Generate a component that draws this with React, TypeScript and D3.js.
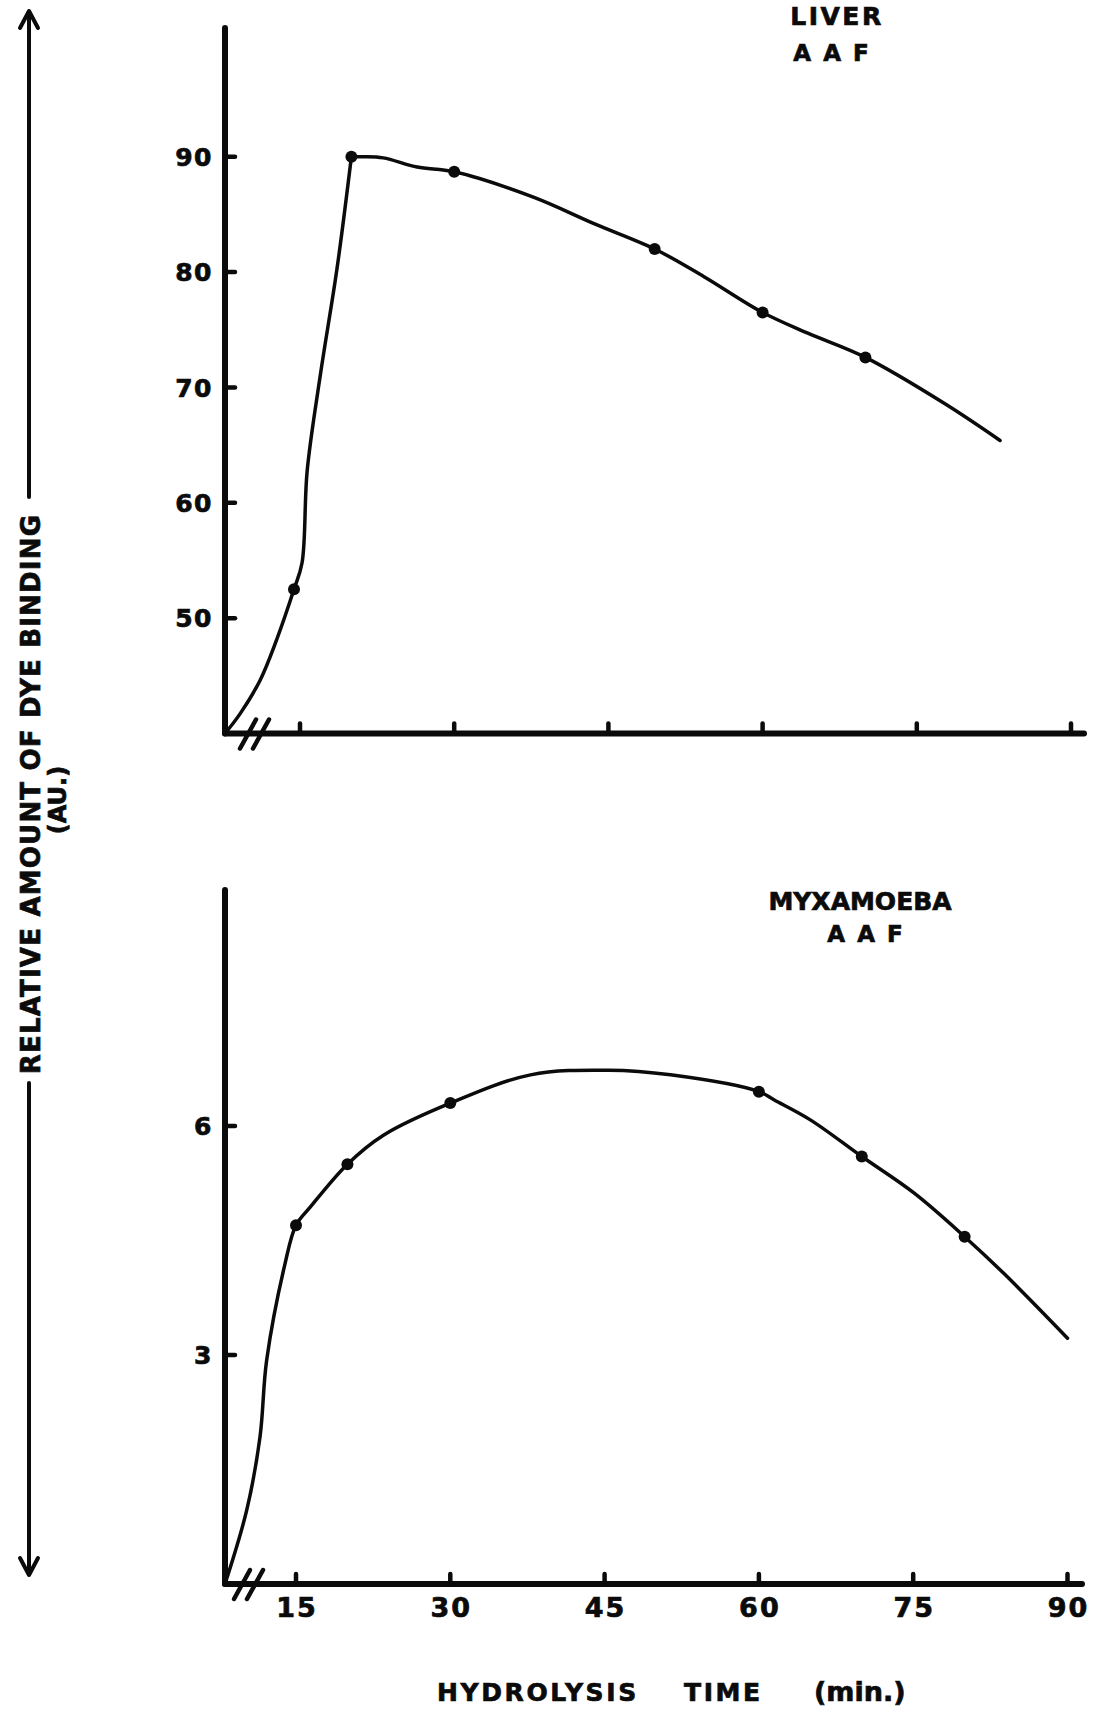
import React from "react";
import * as d3 from "d3";

// Hydrolysis time ticks (minutes), shared by both panels
const timeTicks = [15, 30, 45, 60, 75, 90];

// Liver, AAF fixed: measured points and the drawn curve through them
const liverTicks = [50, 60, 70, 80, 90];
const liverDotTime = [13.8, 20, 30, 49.5, 60, 70];
const liverDotValue = [52.5, 90, 88.7, 82, 76.5, 72.6];
const liverTraceTime = [0, 3, 7, 10.3, 15.2, 15.7, 17, 18.6, 21.1, 23.1, 26.4, 37.7, 43.6, 54.3, 64.4, 77.7, 83.1];
const liverTraceValue = [40, 41.7, 44.6, 48.1, 54.8, 62.8, 71.2, 80.3, 90.0, 89.9, 89.1, 86.5, 84.2, 79.6, 74.7, 68.6, 65.4];
const liverCornerTime = 20;

// Myxamoeba, AAF fixed
const myxTicks = [3, 6];
const myxDotTime = [15, 20, 30, 60, 70, 80];
const myxDotValue = [4.7, 5.5, 6.3, 6.45, 5.6, 4.55];
const myxTraceTime = [0, 4.6, 7.4, 8.8, 12.7, 16.4, 23.5, 37.8, 45.4, 51.4, 61.5, 65, 75.1, 83.8, 90];
const myxTraceValue = [0, 0.97, 1.93, 2.93, 4.2, 4.94, 5.88, 6.67, 6.73, 6.67, 6.34, 6.08, 5.12, 4.07, 3.22];

const FONT = "'DejaVu Sans', 'Liberation Sans', sans-serif";
const INK = "#0b0b0b";
const AXIS_X = 225;
const TEXT_STROKE = 0.7;

type PanelProps = {
  yDomain: [number, number];
  yRange: [number, number];
  axisTop: number;
  x15: number;
  x90: number;
  xEnd: number;
  yTicks: number[];
  dotT: number[];
  dotV: number[];
  traceT: number[];
  traceV: number[];
  cornerT?: number;
  breakOffset: number;
  showTimeLabels: boolean;
};

function Panel(p: PanelProps) {
  // broken time axis: 0..15 min compressed between the origin and the first tick
  const x = d3.scaleLinear().domain([0, 15, 90]).range([AXIS_X, p.x15, p.x90]);
  const y = d3.scaleLinear().domain(p.yDomain).range(p.yRange);
  const y0 = y(p.yDomain[0]);

  const pts: [number, number][] = [
    ...p.traceT.map((t, i) => [t, p.traceV[i]] as [number, number]),
    ...p.dotT.map((t, i) => [t, p.dotV[i]] as [number, number]),
  ].sort((a, b) => a[0] - b[0]);

  // a sharp corner splits the curve into separately smoothed pieces
  const pieces: [number, number][][] =
    p.cornerT === undefined
      ? [pts]
      : [pts.filter((d) => d[0] <= p.cornerT!), pts.filter((d) => d[0] >= p.cornerT!)];

  const line = d3
    .line<[number, number]>()
    .x((d) => x(d[0]))
    .y((d) => y(d[1]))
    .curve(d3.curveCatmullRom.alpha(0.5));

  const b1 = AXIS_X + p.breakOffset;
  const b2 = b1 + 13;

  return (
    <g>
      {/* axes */}
      <line x1={AXIS_X} y1={p.axisTop} x2={AXIS_X} y2={y0} stroke={INK} strokeWidth={6} strokeLinecap="round" />
      <line x1={AXIS_X} y1={y0} x2={p.xEnd} y2={y0} stroke={INK} strokeWidth={6} strokeLinecap="round" />
      {/* axis break */}
      {[b1, b2].map((bx, i) => (
        <line key={i} x1={bx - 8} y1={y0 + 15} x2={bx + 8} y2={y0 - 14} stroke={INK} strokeWidth={4.5} strokeLinecap="round" />
      ))}
      {/* value ticks */}
      {p.yTicks.map((v) => (
        <g key={v}>
          <line x1={AXIS_X} y1={y(v)} x2={AXIS_X + 10} y2={y(v)} stroke={INK} strokeWidth={4.5} strokeLinecap="round" />
          <text x={AXIS_X - 12} y={y(v)} dy="0.37em" textAnchor="end" fontFamily={FONT} fontWeight="bold" fontSize={25} letterSpacing={1.5} fill={INK} stroke={INK} strokeWidth={TEXT_STROKE}>
            {v}
          </text>
        </g>
      ))}
      {/* time ticks */}
      {timeTicks.map((t) => (
        <g key={t}>
          <line x1={x(t)} y1={y0} x2={x(t)} y2={y0 - 10} stroke={INK} strokeWidth={4.5} strokeLinecap="round" />
          {p.showTimeLabels && (
            <text x={x(t) + 1} y={y0 + 33} textAnchor="middle" fontFamily={FONT} fontWeight="bold" fontSize={27} letterSpacing={2} fill={INK} stroke={INK} strokeWidth={TEXT_STROKE}>
              {t}
            </text>
          )}
        </g>
      ))}
      {/* curve */}
      {pieces.map((seg, i) => (
        <path key={i} d={line(seg) || ""} fill="none" stroke={INK} strokeWidth={3.5} strokeLinejoin="round" strokeLinecap="round" />
      ))}
      {/* measured points */}
      {p.dotT.map((t, i) => (
        <circle key={i} cx={x(t)} cy={y(p.dotV[i])} r={6} fill={INK} />
      ))}
    </g>
  );
}

export default function App() {
  const arrowX = 29;
  const bold = { fontFamily: FONT, fontWeight: "bold", fill: INK, stroke: INK, strokeWidth: TEXT_STROKE } as const;
  return (
    <svg
      width={1094}
      height={1710}
      viewBox="0 0 1094 1710"
      style={{ position: "absolute", left: 0, top: 0, background: "#fff", display: "block" }}
    >
      <rect width={1094} height={1710} fill="#fff" />

      {/* shared value axis label with arrows */}
      <line x1={arrowX} y1={12} x2={arrowX} y2={497} stroke={INK} strokeWidth={4} strokeLinecap="round" />
      <polyline points={`${arrowX - 9},${28} ${arrowX},${11} ${arrowX + 9},${28}`} fill="none" stroke={INK} strokeWidth={4} strokeLinecap="round" strokeLinejoin="round" />
      <line x1={arrowX} y1={1083} x2={arrowX} y2={1574} stroke={INK} strokeWidth={4} strokeLinecap="round" />
      <polyline points={`${arrowX - 9},${1558} ${arrowX},${1575} ${arrowX + 9},${1558}`} fill="none" stroke={INK} strokeWidth={4} strokeLinecap="round" strokeLinejoin="round" />
      <text transform="translate(40,794) rotate(-90)" textAnchor="middle" fontSize={26} letterSpacing={1.2} {...bold}>
        RELATIVE AMOUNT OF DYE BINDING
      </text>
      <text transform="translate(66,800) rotate(-90)" textAnchor="middle" fontSize={24} {...bold}>
        (AU.)
      </text>

      {/* liver panel */}
      <text x={837} y={25} textAnchor="middle" fontSize={25} letterSpacing={2.5} {...bold}>
        LIVER
      </text>
      <text x={832} y={61} textAnchor="middle" fontSize={23} letterSpacing={2} {...bold}>
        A A F
      </text>
      <Panel
        yDomain={[40, 90]}
        yRange={[733.5, 156.7]}
        axisTop={28}
        x15={300}
        x90={1071}
        xEnd={1084}
        yTicks={liverTicks}
        dotT={liverDotTime}
        dotV={liverDotValue}
        traceT={liverTraceTime}
        traceV={liverTraceValue}
        cornerT={liverCornerTime}
        breakOffset={23}
        showTimeLabels={false}
      />

      {/* myxamoeba panel */}
      <text x={860} y={910} textAnchor="middle" fontSize={25} {...bold}>
        MYXAMOEBA
      </text>
      <text x={866} y={942} textAnchor="middle" fontSize={23} letterSpacing={2} {...bold}>
        A A F
      </text>
      <Panel
        yDomain={[0, 6]}
        yRange={[1584, 1126]}
        axisTop={890}
        x15={296}
        x90={1067.5}
        xEnd={1082}
        yTicks={myxTicks}
        dotT={myxDotTime}
        dotV={myxDotValue}
        traceT={myxTraceTime}
        traceV={myxTraceValue}
        breakOffset={17}
        showTimeLabels={true}
      />

      {/* time axis title */}
      <text x={437} y={1701} fontSize={25} letterSpacing={2.6} {...bold}>
        HYDROLYSIS
      </text>
      <text x={684} y={1701} fontSize={25} letterSpacing={2.6} {...bold}>
        TIME
      </text>
      <text x={814} y={1701} fontSize={27} {...bold}>
        (min.)
      </text>
    </svg>
  );
}
